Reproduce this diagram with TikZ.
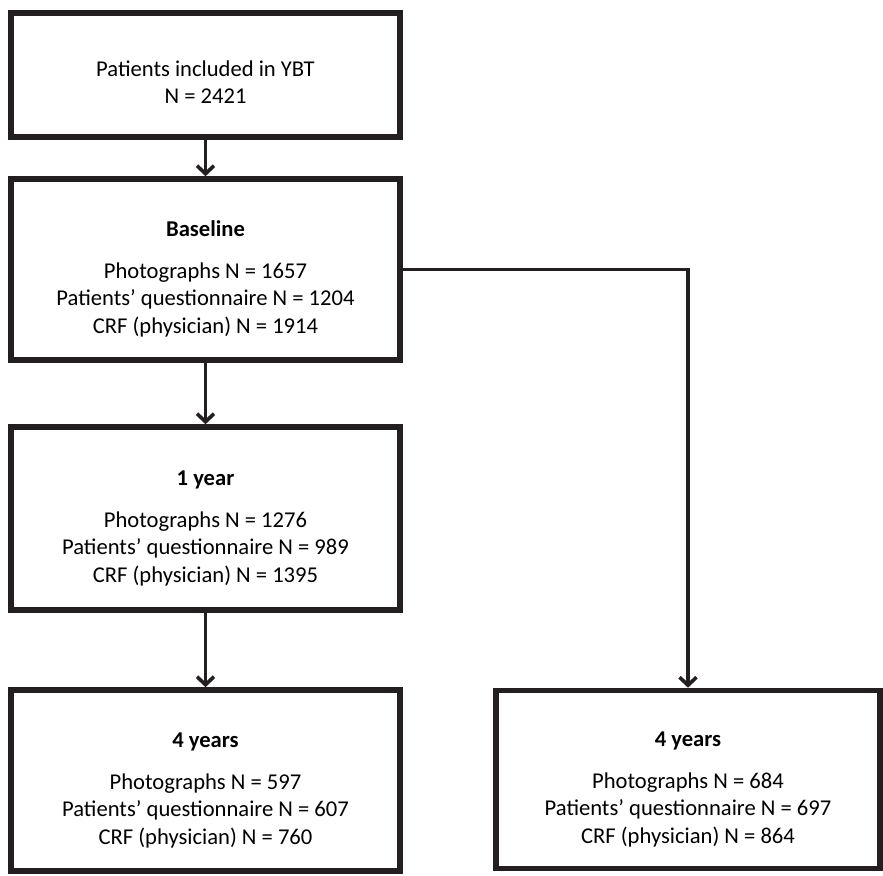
\documentclass[tikz,border=0pt]{standalone}
\usepackage{fontspec}
\setmainfont{Carlito}
\usetikzlibrary{arrows.meta}
\definecolor{fg}{HTML}{231F20}
\newcommand{\stage}[1]{\rule{0pt}{17.5pt}\textbf{#1}\\[7pt]}

\begin{document}
\begin{tikzpicture}[x=0.5pt,y=-0.5pt,
    box/.style={draw=fg,line width=2.8pt,fill=white,align=center,inner sep=0pt,
      minimum width=194.5pt,font=\fontsize{11.3}{13.75}\selectfont},
    flow/.style={draw=fg,line width=1.8pt,-{Straight Barb[length=4pt,width=8.5pt]}}]
  \useasboundingbox (0,0) rectangle (883,876);

  \node[box,minimum height=62pt] (incl) at (205.5,75)
    {\rule{0pt}{15pt}Patients included in YBT\\N = 2421};
  \node[box,minimum height=90.5pt] (base) at (205.5,269.5)
    {\stage{Baseline}Photographs N = 1657\\Patients’ questionnaire N = 1204\\CRF (physician) N = 1914};
  \node[box,minimum height=91.5pt] (year1) at (205.5,518.5)
    {\stage{1 year}Photographs N = 1276\\Patients’ questionnaire N = 989\\CRF (physician) N = 1395};
  \node[box,minimum height=90.5pt] (year4a) at (205.5,780.5)
    {\stage{4 years}Photographs N = 597\\Patients’ questionnaire N = 607\\CRF (physician) N = 760};
  \node[box,minimum width=192pt,minimum height=89pt] (year4b) at (688,779.5)
    {\stage{4 years}Photographs N = 684\\Patients’ questionnaire N = 697\\CRF (physician) N = 864};

  \draw[flow] (incl.south) -- (base.north);
  \draw[flow] (base.south) -- (year1.north);
  \draw[flow] (year1.south) -- (year4a.north);
  \draw[flow] (base.east) -| (year4b.north);
\end{tikzpicture}
\end{document}
